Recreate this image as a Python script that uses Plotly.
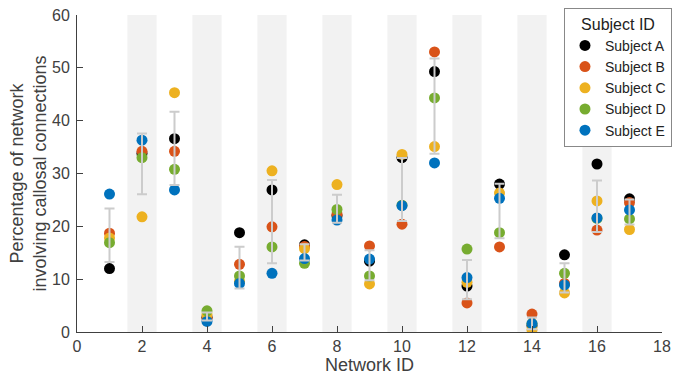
import numpy as np
import plotly.graph_objects as go

networks = list(range(1, 18))
subjects = ["Subject A", "Subject B", "Subject C", "Subject D", "Subject E"]
colors = ["#000000", "#D95319", "#EDB120", "#77AC30", "#0072BD"]

subject_a = [12.0, 33.8, 36.6, 2.8, 18.8, 26.9, 16.5, 22.0, 13.4, 33.0, 49.3, 8.7, 28.0, 1.2, 14.6, 31.8, 25.2]
subject_b = [18.7, 34.2, 34.2, 2.6, 12.8, 19.9, 16.2, 22.3, 16.3, 20.4, 53.0, 5.5, 16.1, 3.4, 9.2, 19.3, 24.5]
subject_c = [17.8, 21.8, 45.3, 3.3, 9.6, 30.5, 15.8, 27.9, 9.1, 33.6, 35.1, 9.4, 26.3, 0.4, 7.4, 24.8, 19.4]
subject_d = [16.9, 33.0, 30.8, 4.0, 10.6, 16.1, 13.0, 23.2, 10.6, 24.0, 44.3, 15.7, 18.8, 1.6, 11.1, 21.5, 21.4]
subject_e = [26.1, 36.3, 26.9, 2.0, 9.2, 11.1, 13.9, 21.2, 13.8, 23.9, 32.0, 10.3, 25.3, 1.6, 8.9, 21.6, 23.1]

series = [subject_a, subject_b, subject_c, subject_d, subject_e]
data = np.array(series)
means = data.mean(axis=0)
stds = data.std(axis=0, ddof=1)

fig = go.Figure()

# gray bands behind even networks
for n in networks:
    if n % 2 == 0:
        fig.add_shape(type="rect", xref="x", yref="y", x0=n - 0.45, x1=n + 0.45, y0=0, y1=60,
                      fillcolor="#f2f2f2", line_width=0, layer="below")

for name, vals, col in zip(subjects, series, colors):
    fig.add_trace(go.Scatter(x=networks, y=vals, mode="markers", name=name,
                             marker=dict(size=11, color=col, line_width=0)))

fig.add_trace(go.Scatter(x=networks, y=means, mode="markers", showlegend=False,
                         marker=dict(size=1, opacity=0),
                         error_y=dict(type="data", array=stds, visible=True,
                                      color="#cccccc", thickness=2, width=5)))

font = "Liberation Sans, Arial, Helvetica, sans-serif"
fig.update_layout(
    width=674, height=381,
    margin=dict(l=77, r=12, t=15, b=49, autoexpand=False),
    plot_bgcolor="white", paper_bgcolor="white",
    font=dict(family=font, size=16, color="#404040"),
    legend=dict(xref="container", yref="container", x=0.997, y=0.979,
                xanchor="right", yanchor="top",
                bordercolor="#888888", borderwidth=1, bgcolor="white",
                font=dict(size=14, color="#222222"),
                title=dict(text="Subject ID", side="top center", font=dict(size=16, color="#222222")),
                itemsizing="trace", tracegroupgap=0),
    xaxis=dict(range=[0, 18], dtick=2, tick0=0, ticks="inside", ticklen=6, tickcolor="#404040",
               showline=True, linecolor="#404040", linewidth=1, showgrid=False, zeroline=False,
               automargin=False, tickfont=dict(size=16, color="#404040"),
               title=dict(text="Network ID", font=dict(size=18, color="#404040"), standoff=2)),
    yaxis=dict(range=[0, 60], dtick=10, tick0=0, ticks="inside", ticklen=6, tickcolor="#404040",
               showline=True, linecolor="#404040", linewidth=1, showgrid=False, zeroline=False,
               automargin=False, tickfont=dict(size=16, color="#404040"), ticklabelstandoff=3,
               title=dict(text="Percentage of network<br>involving callosal connections",
                          font=dict(size=18, color="#404040"), standoff=0)),
)

fig.write_html("out.html", config={"displayModeBar": False, "staticPlot": True},
               post_script="document.body.style.margin='0';document.body.style.overflow='hidden';")
